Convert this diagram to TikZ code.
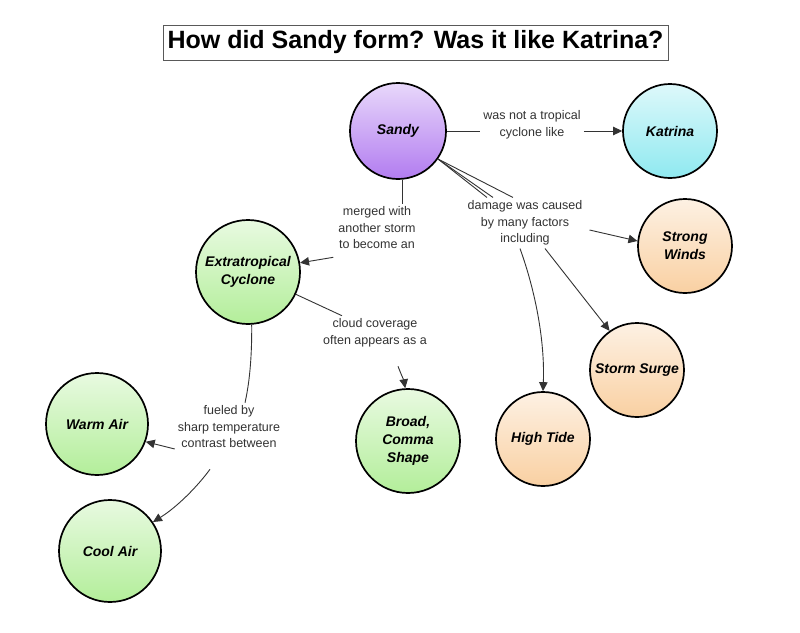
\documentclass[tikz,border=0pt]{standalone}
\usepackage{fontspec}
\setmainfont{Liberation Sans}
\usetikzlibrary{arrows.meta,calc}
\definecolor{purp}{HTML}{B27CF0}
\definecolor{cyanc}{HTML}{8FE9F0}
\definecolor{greenc}{HTML}{B3EE9A}
\definecolor{orangec}{HTML}{F9D0A2}
\definecolor{linec}{HTML}{333333}
\tikzset{
  concept/.style={circle, draw=black, line width=1.7pt, inner sep=0pt, align=center,
    font=\bfseries\itshape\fontsize{14}{18}\selectfont},
  fillc/.style={top color=#1!30!white, middle color=#1!12!white, bottom color=#1},
  lab/.style={font=\fontsize{12.5}{16.5}\selectfont, text=linec, align=center, inner sep=3pt},
  conn/.style={draw=linec, line width=0.9pt},
  arr/.style={conn, -{Triangle[length=9pt,width=8.5pt]}}
}
\begin{document}
\begin{tikzpicture}[x=1pt,y=-1pt]
\useasboundingbox[fill=white] (0,0) rectangle (800,632);
\node[draw=black!65, line width=0.9pt, minimum width=505pt, minimum height=35pt, inner sep=0pt,
  font=\bfseries\fontsize{25}{30}\selectfont] (title) at (415.5,42.5) {How did Sandy form? Was it like Katrina?};

\node[concept, fillc=purp, minimum size=96pt] (sandy) at (398,131) {Sandy};
\node[concept, fillc=cyanc, minimum size=94pt] (katrina) at (670,131) {Katrina};
\node[concept, fillc=greenc, minimum size=104pt] (extra) at (248,272) {Extratropical\\Cyclone};
\node[concept, fillc=orangec, minimum size=94pt] (winds) at (685,246) {Strong\\Winds};
\node[concept, fillc=orangec, minimum size=94pt] (surge) at (637,370) {Storm Surge};
\node[concept, fillc=orangec, minimum size=94pt] (htide) at (543,439) {High Tide};
\node[concept, fillc=greenc, minimum size=104pt] (broad) at (408,441) {Broad,\\Comma\\Shape};
\node[concept, fillc=greenc, minimum size=102pt] (warm) at (97,424) {Warm Air};
\node[concept, fillc=greenc, minimum size=102pt] (cool) at (110,551) {Cool Air};

\node[lab] (lab1) at (532,125) {was not a tropical\\cyclone like};
\node[lab] (lab2) at (377,228) {merged with\\another storm\\to become an};
\node[lab] (lab3) at (525,223) {damage was caused\\by many factors\\including};
\node[lab] (lab4) at (375,333) {cloud coverage\\often appears as a};
\node[lab] (lab5) at (229,427) {fueled by\\sharp temperature\\contrast between};

% Sandy -> Katrina
\draw[conn] (sandy.east |- 0,131) -- (lab1.west |- 0,131);
\draw[arr] (lab1.east |- 0,131) -- (katrina.west);

% Sandy -> Extratropical
\draw[conn] (sandy.275) -- (sandy.275 |- lab2.north);
\draw[arr] ($(lab2.south west)+(-2,5)$) -- (extra.10);

% Sandy -> damage factors
\draw[conn] (sandy.-35) -- ($(lab3.north)+(-38,0)$);
\draw[conn] (sandy.-35) -- ($(lab3.north)+(-32,0)$);
\draw[conn] (sandy.-35) -- ($(lab3.north)+(-12,0)$);
\draw[arr] ($(lab3.east)+(4,7)$) -- (winds.174);
\draw[arr] ($(lab3.south)+(20,0)$) -- (surge.125);
\draw[arr] ($(lab3.south)+(-5,0)$) .. controls (535,290) and (545,340) .. (htide.north);

% Extratropical -> Broad
\draw[conn] (extra.-25) -- ($(lab4.north)+(-33,0)$);
\draw[arr] ($(lab4.south)+(23,16)$) .. controls (401,374) and (404,381) .. (broad.93);

% Extratropical -> Warm / Cool
\draw[conn] (extra.274) .. controls (252,360) and (249,385) .. ($(lab5.north)+(16,0)$);
\draw[arr] ($(lab5.west)+(0,22)$) -- (warm.-20);
\draw[arr] ($(lab5.south)+(-19,18)$) .. controls (197,487) and (177,507) .. (cool.34);
\end{tikzpicture}
\end{document}
